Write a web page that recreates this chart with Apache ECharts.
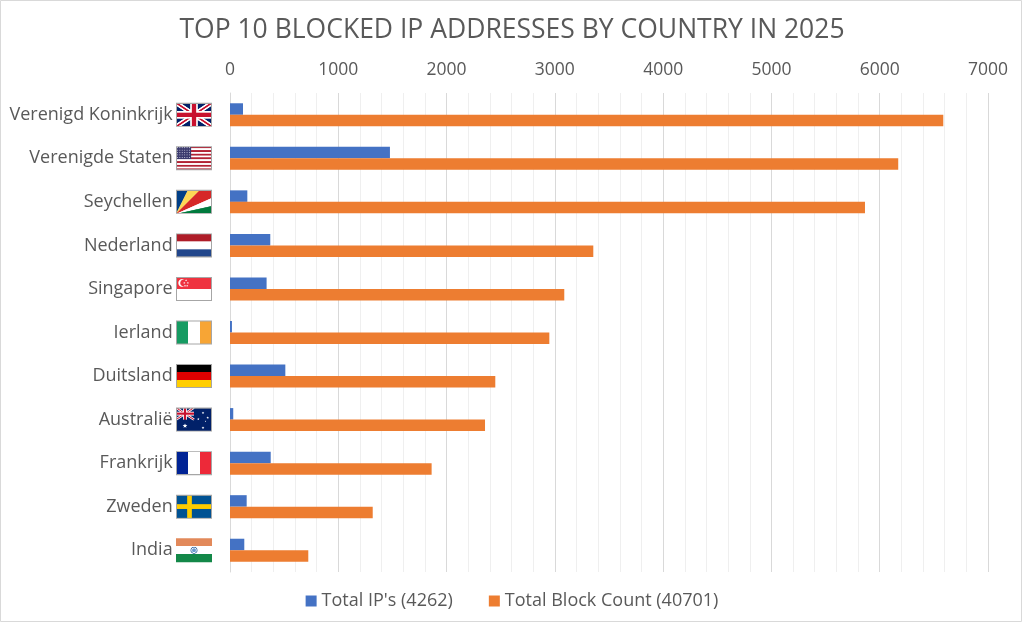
<!DOCTYPE html>
<html>
<head>
<meta charset="utf-8">
<script src="https://cdn.jsdelivr.net/npm/echarts@6/dist/echarts.min.js"></script>
<style>
html,body{margin:0;padding:0;background:#fff;}
#main{width:1024px;height:625px;}
</style>
</head>
<body>
<div id="main"></div>
<script>
// data
var countries = ['Verenigd Koninkrijk','Verenigde Staten','Seychellen','Nederland','Singapore','Ierland','Duitsland','Australië','Frankrijk','Zweden','India'];
var flagKeys = ['gb','us','sc','nl','sg','ie','de','au','fr','se','in'];
var totalIps = [120,1477,160,372,338,18,511,30,376,154,132];
var blockCount = [6587,6171,5864,3355,3087,2949,2450,2355,1862,1318,723];
var seriesNames = ["Total IP's (4262)","Total Block Count (40701)"];

var FW = 36, FH = 24;

function star(g, cx, cy, r) {
    g.beginPath();
    for (var i = 0; i < 10; i++) {
        var rr = i % 2 ? r * 0.45 : r;
        var a = -Math.PI / 2 + i * Math.PI / 5;
        g.lineTo(cx + rr * Math.cos(a), cy + rr * Math.sin(a));
    }
    g.closePath();
    g.fill();
}
function union(g, w, h) {
    g.fillStyle = '#012169'; g.fillRect(0, 0, w, h);
    g.strokeStyle = '#fff'; g.lineWidth = h * 0.2;
    g.beginPath(); g.moveTo(0, 0); g.lineTo(w, h); g.moveTo(w, 0); g.lineTo(0, h); g.stroke();
    g.strokeStyle = '#C8102E'; g.lineWidth = h * 0.07;
    g.beginPath(); g.moveTo(0, 0); g.lineTo(w, h); g.moveTo(w, 0); g.lineTo(0, h); g.stroke();
    g.fillStyle = '#fff';
    g.fillRect(w / 2 - h * 0.16, 0, h * 0.32, h); g.fillRect(0, h * 0.34, w, h * 0.32);
    g.fillStyle = '#C8102E';
    g.fillRect(w / 2 - h * 0.09, 0, h * 0.18, h); g.fillRect(0, h * 0.41, w, h * 0.18);
}
var drawers = {
    gb: function (g, w, h) { union(g, w, h); },
    us: function (g, w, h) {
        for (var i = 0; i < 13; i++) { g.fillStyle = i % 2 ? '#fff' : '#B22234'; g.fillRect(0, i * h / 13, w, h / 13 + 0.3); }
        g.fillStyle = '#3C3B6E'; g.fillRect(0, 0, w * 0.42, h * 7 / 13);
        g.fillStyle = '#c8c8dc';
        for (var r = 0; r < 5; r++) for (var c = 0; c < 6; c++) g.fillRect(1 + c * 2.4, 1 + r * 2.4, 0.9, 0.9);
    },
    sc: function (g, w, h) {
        var pts = [['#003F87', [0, 0], [w / 3, 0]], ['#FCD856', [w / 3, 0], [2 * w / 3, 0]],
            ['#D62828', [2 * w / 3, 0], [w, 0], [w, h / 3]], ['#fff', [w, h / 3], [w, 2 * h / 3]], ['#007A3D', [w, 2 * h / 3], [w, h]]];
        pts.forEach(function (p) {
            g.fillStyle = p[0]; g.beginPath(); g.moveTo(0, h);
            for (var i = 1; i < p.length; i++) g.lineTo(p[i][0], p[i][1]);
            g.closePath(); g.fill();
        });
    },
    nl: function (g, w, h) {
        g.fillStyle = '#AE1C28'; g.fillRect(0, 0, w, h / 3);
        g.fillStyle = '#fff'; g.fillRect(0, h / 3, w, h / 3);
        g.fillStyle = '#21468B'; g.fillRect(0, 2 * h / 3, w, h / 3 + 1);
    },
    sg: function (g, w, h) {
        g.fillStyle = '#EF3340'; g.fillRect(0, 0, w, h / 2);
        g.fillStyle = '#fff'; g.fillRect(0, h / 2, w, h / 2);
        g.beginPath(); g.arc(w * 0.17, h * 0.25, h * 0.16, 0, Math.PI * 2); g.fill();
        g.fillStyle = '#EF3340'; g.beginPath(); g.arc(w * 0.21, h * 0.25, h * 0.14, 0, Math.PI * 2); g.fill();
        g.fillStyle = '#fff';
        star(g, w * 0.28, h * 0.14, 1.1); star(g, w * 0.33, h * 0.25, 1.1); star(g, w * 0.23, h * 0.25, 1.1);
        star(g, w * 0.25, h * 0.37, 1.1); star(g, w * 0.31, h * 0.37, 1.1);
    },
    ie: function (g, w, h) {
        g.fillStyle = '#169B62'; g.fillRect(0, 0, w / 3, h);
        g.fillStyle = '#fff'; g.fillRect(w / 3, 0, w / 3, h);
        g.fillStyle = '#F7A535'; g.fillRect(2 * w / 3, 0, w / 3 + 1, h);
    },
    de: function (g, w, h) {
        g.fillStyle = '#000'; g.fillRect(0, 0, w, h / 3);
        g.fillStyle = '#DD0000'; g.fillRect(0, h / 3, w, h / 3);
        g.fillStyle = '#FFCE00'; g.fillRect(0, 2 * h / 3, w, h / 3 + 1);
    },
    au: function (g, w, h) {
        g.fillStyle = '#012169'; g.fillRect(0, 0, w, h);
        g.save(); union(g, w / 2, h / 2); g.restore();
        g.fillStyle = '#fff';
        star(g, w * 0.25, h * 0.76, 2.4);
        star(g, w * 0.75, h * 0.22, 1.3); star(g, w * 0.62, h * 0.48, 1.3);
        star(g, w * 0.88, h * 0.42, 1.3); star(g, w * 0.75, h * 0.84, 1.4); star(g, w * 0.82, h * 0.57, 0.8);
    },
    fr: function (g, w, h) {
        g.fillStyle = '#002395'; g.fillRect(0, 0, w / 3, h);
        g.fillStyle = '#fff'; g.fillRect(w / 3, 0, w / 3, h);
        g.fillStyle = '#ED2939'; g.fillRect(2 * w / 3, 0, w / 3 + 1, h);
    },
    se: function (g, w, h) {
        g.fillStyle = '#005293'; g.fillRect(0, 0, w, h);
        g.fillStyle = '#FECB00'; g.fillRect(w * 0.31, 0, w * 0.13, h); g.fillRect(0, h * 0.4, w, h * 0.2);
    },
    in: function (g, w, h) {
        g.fillStyle = '#E2895A'; g.fillRect(0, 0, w, h / 3);
        g.fillStyle = '#fff'; g.fillRect(0, h / 3, w, h / 3);
        g.fillStyle = '#138848'; g.fillRect(0, 2 * h / 3, w, h / 3 + 1);
        g.strokeStyle = '#3a6ea5'; g.lineWidth = 0.8;
        g.beginPath(); g.arc(w / 2, h / 2, h * 0.13, 0, Math.PI * 2); g.stroke();
        g.fillStyle = '#6a9bd0'; g.beginPath(); g.arc(w / 2, h / 2, h * 0.08, 0, Math.PI * 2); g.fill();
    }
};
function makeFlag(key) {
    var c = document.createElement('canvas');
    c.width = FW * 2; c.height = FH * 2;
    var g = c.getContext('2d');
    g.scale(2, 2);
    drawers[key](g, FW, FH);
    if (key !== 'in') {
        g.strokeStyle = '#a6a6a6'; g.lineWidth = 1;
        g.strokeRect(0.5, 0.5, FW - 1, FH - 1);
    }
    return c;
}

var rich = {
    n: { fontFamily: 'Open Sans', fontSize: 18, color: '#595959' }
};
flagKeys.forEach(function (k) {
    rich[k] = { width: FW, height: FH, backgroundColor: { image: makeFlag(k) } };
});

var chart = echarts.init(document.getElementById('main'));
var option = {
    backgroundColor: '#fff',
    animation: false,
    title: {
        text: 'TOP 10 BLOCKED IP ADDRESSES BY COUNTRY IN 2025',
        left: 'center',
        top: 12,
        textStyle: { fontFamily: 'Open Sans', fontSize: 26.5, fontWeight: 'normal', color: '#595959' }
    },
    legend: {
        bottom: 10,
        left: 'center',
        itemWidth: 11,
        itemHeight: 11,
        itemGap: 36,
        icon: 'rect',
        textStyle: { fontFamily: 'Open Sans', fontSize: 18, color: '#595959' },
        data: seriesNames
    },
    grid: { left: 230, right: 36, top: 93, bottom: 53 },
    xAxis: {
        type: 'value',
        position: 'top',
        min: 0,
        max: 7000,
        interval: 1000,
        axisLine: { show: false },
        axisTick: { show: false },
        axisLabel: {
            fontFamily: 'Open Sans', fontSize: 17.5, color: '#595959', margin: 14,
            formatter: function (v) { return String(v); }
        },
        splitLine: { show: true, lineStyle: { color: '#d9d9d9', width: 1 } },
        minorTick: { show: false, splitNumber: 5 },
        minorSplitLine: { show: true, lineStyle: { color: '#efefef', width: 1 } }
    },
    yAxis: {
        type: 'category',
        inverse: true,
        data: countries,
        axisLine: { show: true, lineStyle: { color: '#d9d9d9' } },
        axisTick: { show: false },
        axisLabel: {
            margin: 18,
            formatter: function (v, i) { return '{n|' + v + '} {' + flagKeys[i] + '|}'; },
            rich: rich
        }
    },
    series: [
        { name: seriesNames[0], type: 'bar', data: totalIps, barWidth: 11.5, barGap: '0%', itemStyle: { color: '#4472C4' } },
        { name: seriesNames[1], type: 'bar', data: blockCount, barWidth: 11.5, barGap: '0%', itemStyle: { color: '#ED7D31' } }
    ],
    graphic: [{
        type: 'rect',
        silent: true,
        shape: { x: 0.5, y: 0.5, width: 1021, height: 621 },
        style: { fill: 'none', stroke: '#d9d9d9', lineWidth: 1 }
    }]
};
chart.setOption(option);
</script>
</body>
</html>
